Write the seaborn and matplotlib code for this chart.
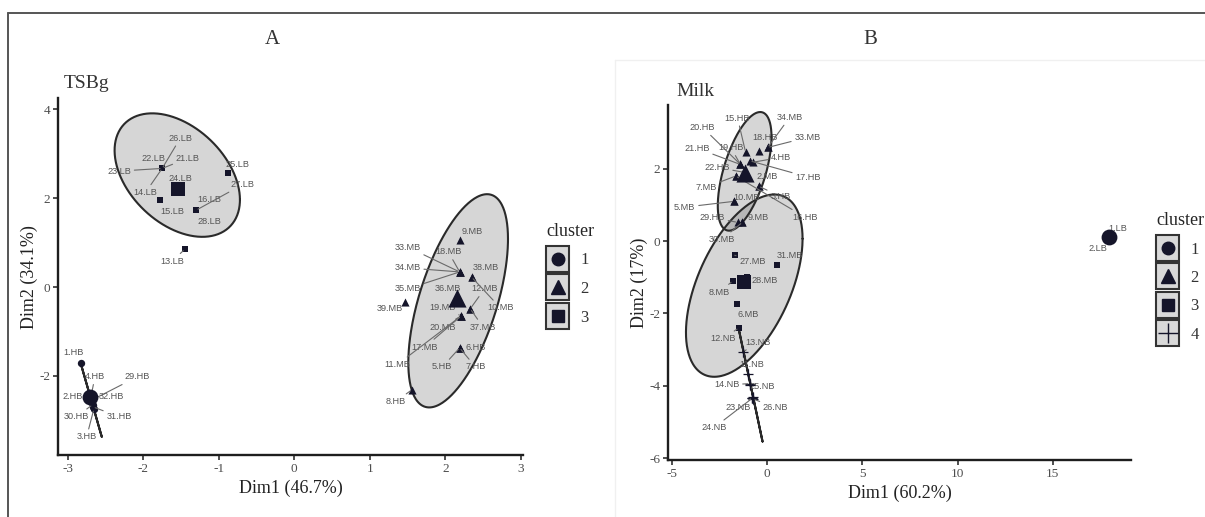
import numpy as np
import pandas as pd
import matplotlib
matplotlib.use("Agg")
import matplotlib.pyplot as plt
import seaborn as sns
from matplotlib.lines import Line2D
from matplotlib.patches import Rectangle
from matplotlib.legend_handler import HandlerBase

# ---------------- DATA : panel A (TSBg) ----------------
A_names = ["21.LB", "22.LB", "23.LB", "26.LB", "14.LB", "25.LB", "24.LB", "15.LB",
           "16.LB", "27.LB", "28.LB", "13.LB",
           "1.HB", "2.HB", "4.HB", "29.HB", "32.HB", "30.HB", "31.HB", "3.HB",
           "9.MB", "18.MB", "33.MB", "34.MB", "35.MB", "38.MB", "36.MB", "12.MB",
           "10.MB", "37.MB", "39.MB", "19.MB", "20.MB", "17.MB", "11.MB", "6.HB",
           "5.HB", "7.HB", "8.HB"]
A_dim1 = [-1.75, -1.75, -1.75, -1.75, -1.75, -0.88, -1.55, -1.78,
          -1.30, -1.30, -1.30, -1.45,
          -2.83, -2.705, -2.697, -2.688, -2.68, -2.672, -2.663, -2.655,
          2.20, 2.19, 2.19, 2.19, 2.19, 2.35, 2.15, 2.33,
          2.35, 2.33, 1.47, 2.21, 2.21, 2.21, 2.21, 2.19,
          2.19, 2.19, 1.56]
A_dim2 = [2.67, 2.67, 2.67, 2.67, 2.67, 2.56, 2.22, 1.95,
          1.73, 1.73, 1.73, 0.85,
          -1.71, -2.45, -2.50, -2.55, -2.60, -2.65, -2.70, -2.75,
          1.06, 0.34, 0.34, 0.34, 0.34, 0.22, -0.25, -0.49,
          0.22, -0.49, -0.34, -0.65, -0.65, -0.65, -0.65, -1.37,
          -1.37, -1.37, -2.31]
A_cluster = [3] * 12 + [1] * 8 + [2] * 19
# label anchor positions (repelled text), data units
A_lab1 = [-1.41, -1.87, -2.32, -1.51, -1.97, -0.75, -1.51, -1.61,
          -1.13, -0.68, -1.13, -1.62,
          -2.93, -2.93, -2.64, -2.08, -2.42, -2.89, -2.32, -2.75,
          2.36, 2.04, 1.50, 1.50, 1.50, 2.53, 2.03, 2.52,
          2.73, 2.50, 1.27, 1.96, 1.96, 1.73, 1.36, 2.40,
          1.96, 2.40, 1.34]
A_lab2 = [2.90, 2.90, 2.61, 3.35, 2.13, 2.76, 2.45, 1.71,
          1.96, 2.31, 1.48, 0.58,
          -1.48, -2.47, -2.02, -2.02, -2.47, -2.92, -2.92, -3.37,
          1.24, 0.79, 0.90, 0.43, -0.04, 0.43, -0.04, -0.04,
          -0.47, -0.90, -0.49, -0.45, -0.90, -1.35, -1.75, -1.35,
          -1.80, -1.80, -2.58]
A_center_cluster = [1, 2, 3]
A_center_dim1 = [-2.71, 2.15, -1.54]
A_center_dim2 = [-2.47, -0.25, 2.20]
# ellipses: centre, half-extent in x / y, correlation
A_ell_cluster = [1, 2, 3]
A_ell_cx = [-2.69, 2.17, -1.55]
A_ell_cy = [-2.54, -0.31, 2.52]
A_ell_sx = [0.14, 0.66, 0.83]
A_ell_sy = [0.83, 2.40, 1.39]
A_ell_rho = [-1.0, 0.58, -0.40]

# ---------------- DATA : panel B (Milk) ----------------
B_names = ["1.LB", "2.LB",
           "15.HB", "18.HB", "34.MB", "33.MB", "4.HB", "17.HB", "19.HB", "21.HB",
           "20.HB", "22.HB", "7.MB", "16.HB", "2.MB", "3.HB", "10.MB", "5.MB",
           "29.HB", "30.MB", "9.MB",
           "27.MB", "31.MB", "8.MB", "28.MB", "6.MB", "12.NB",
           "13.NB", "11.NB", "14.NB", "25.NB", "26.NB", "23.NB", "24.NB"]
B_dim1 = [17.93, 17.93,
          -1.13, -0.45, 0.03, 0.03, -0.76, -0.90, -1.40, -1.40,
          -1.40, -1.18, -1.65, -1.65, -0.45, -0.45, -1.75, -1.75,
          -1.55, -1.30, -1.30,
          -1.70, 0.50, -1.81, -1.07, -1.60, -1.49,
          -1.25, -1.00, -0.90, -0.76, -0.74, -0.78, -0.77]
B_dim2 = [0.11, 0.11,
          2.46, 2.48, 2.59, 2.59, 2.18, 2.22, 2.12, 2.12,
          2.12, 1.90, 1.80, 1.80, 1.52, 1.52, 1.10, 1.10,
          0.52, 0.52, 0.52,
          -0.39, -0.66, -1.10, -0.99, -1.74, -2.40,
          -3.06, -3.67, -3.94, -4.30, -4.36, -4.33, -4.34]
B_cluster = [1] * 2 + [2] * 19 + [3] * 6 + [4] * 7
B_lab1 = [18.40, 17.36,
          -1.55, -0.13, 1.18, 2.12, 0.75, 2.15, -1.90, -3.69,
          -3.38, -2.64, -3.20, 2.00, 0.00, 0.70, -1.10, -4.32,
          -2.88, -2.40, -0.45,
          -0.76, 1.18, -2.49, -0.13, -0.97, -2.33,
          -0.50, -0.81, -2.12, -0.24, 0.45, -1.54, -2.80]
B_lab2 = [0.36, -0.19,
          3.40, 2.87, 3.42, 2.87, 2.32, 1.77, 2.58, 2.57,
          3.14, 2.04, 1.49, 0.66, 1.78, 1.24, 1.20, 0.94,
          0.65, 0.04, 0.65,
          -0.55, -0.39, -1.41, -1.10, -2.04, -2.70,
          -2.79, -3.42, -3.97, -4.03, -4.61, -4.61, -5.16]
B_center_cluster = [1, 2, 3, 4]
B_center_dim1 = [17.93, -1.18, -1.23, -0.88]
B_center_dim2 = [0.11, 1.88, -1.13, -3.98]
B_ell_cluster = [2, 3, 4]
B_ell_cx = [-1.18, -1.20, -0.865]
B_ell_cy = [1.93, -1.23, -3.985]
B_ell_sx = [1.41, 3.06, 0.625]
B_ell_sy = [1.64, 2.52, 1.555]
B_ell_rho = [0.58, 0.515, -1.0]

# ---------------- STYLE ----------------
sns.set_theme(style="ticks")
plt.rcParams["font.family"] = ["Liberation Serif", "DejaVu Serif"]
plt.rcParams["axes.unicode_minus"] = False
INK = "#15152a"
LABC = "#555555"
SEGC = "#6a6a6a"
MARKERS = {1: "o", 2: "^", 3: "s", 4: "P"}
PT_SIZE = {1: 28, 2: 34, 3: 24}
CT_SIZE = {1: 130, 2: 170, 3: 110}

fig = plt.figure(figsize=(12.05, 5.17), dpi=100)
axA = fig.add_axes([0.0481, 0.120, 0.386, 0.690])
axB = fig.add_axes([0.5544, 0.1103, 0.3842, 0.687])


def draw_ellipses(ax, cx, cy, sx, sy, rho):
    t = np.linspace(0, 2 * np.pi, 300)
    for x0, y0, a, b, r in zip(cx, cy, sx, sy, rho):
        ex = x0 + a * np.cos(t)
        ey = y0 + b * (r * np.cos(t) + np.sqrt(max(0.0, 1 - r * r)) * np.sin(t))
        if abs(r) < 0.999:
            ax.fill(ex, ey, facecolor="#5e5e5e", alpha=0.25, edgecolor="none", zorder=1)
        ax.plot(ex, ey, color="#2a2a2a", lw=1.5, zorder=2)


def draw_points(ax, df, cdf):
    filled = df[df.cluster != 4]
    for cl in sorted(filled.cluster.unique()):
        sub = filled[filled.cluster == cl]
        sns.scatterplot(data=sub, x="Dim1", y="Dim2", marker=MARKERS[cl], s=PT_SIZE[cl],
                        color=INK, edgecolor=INK, linewidth=0, legend=False, ax=ax, zorder=4)
    cross = df[df.cluster == 4]
    if len(cross):
        ax.scatter(cross.Dim1, cross.Dim2, marker="+", s=45, color=INK, linewidths=0.9, zorder=4)
    for _, r in cdf.iterrows():
        cl = int(r.cluster)
        if cl == 4:
            ax.scatter([r.Dim1], [r.Dim2], marker="+", s=55, color=INK, linewidths=0.9, zorder=6)
        else:
            ax.scatter([r.Dim1], [r.Dim2], marker=MARKERS[cl], s=CT_SIZE[cl], color=INK,
                       linewidths=0, zorder=6)


def draw_labels(ax, df):
    ax.figure.canvas.draw()
    tr = ax.transData
    for _, r in df.iterrows():
        p = tr.transform((r.Dim1, r.Dim2))
        q = tr.transform((r.lab1, r.lab2))
        dist = np.hypot(*(p - q))
        kw = dict(ha="center", va="center", fontsize=6.6, color=LABC,
                  family=["Liberation Sans", "DejaVu Sans"], zorder=5)
        if dist > 17:
            kw["arrowprops"] = dict(arrowstyle="-", color=SEGC, lw=0.8, shrinkA=0, shrinkB=1.5)
        ax.annotate(r["name"], xy=(r.Dim1, r.Dim2), xytext=(r.lab1, r.lab2), **kw)


def style_axes(ax, xlim, ylim, xt, yt, xlabel, ylabel):
    ax.set_xlim(*xlim)
    ax.set_ylim(*ylim)
    ax.set_xticks(xt)
    ax.set_yticks(yt)
    sns.despine(ax=ax)
    for s in ("left", "bottom"):
        ax.spines[s].set_linewidth(1.7)
        ax.spines[s].set_color("#1e1e1e")
    ax.tick_params(length=3.5, width=1.1, color="#1e1e1e", labelsize=9.5,
                   labelcolor="#4d4d4d", pad=2)
    ax.set_xlabel(xlabel, fontsize=13, color="#222222", labelpad=4)
    ax.set_ylabel(ylabel, fontsize=13, color="#222222", labelpad=1)
    ax.set_facecolor("white")


KEY_W, KEY_H = 16.6, 18.7   # key box size in points


class KeyHandler(HandlerBase):
    def create_artists(self, legend, orig_handle, xdescent, ydescent, width, height,
                       fontsize, trans):
        cx = -xdescent + width / 2
        cy = -ydescent + height / 2
        rect = Rectangle((cx - KEY_W / 2, cy - KEY_H / 2), KEY_W, KEY_H, facecolor="#d9d9d9",
                         edgecolor="#333333", lw=1.5, transform=trans)
        mk = Line2D([cx], [cy], marker=orig_handle.get_marker(),
                    ms=orig_handle.get_markersize(), color=INK, ls="none",
                    mew=1.0, transform=trans)
        return [rect, mk]


def add_legend(ax, clusters, anchor):
    handles = []
    for cl in clusters:
        mk = {1: "o", 2: "^", 3: "s", 4: "+"}[cl]
        ms = {1: 9, 2: 10, 3: 8, 4: 14}[cl]
        handles.append(Line2D([], [], marker=mk, ms=ms, ls="none"))
    leg = ax.legend(handles, [str(c) for c in clusters], title="cluster",
                    handler_map={Line2D: KeyHandler()}, loc="upper left",
                    bbox_to_anchor=anchor, bbox_transform=fig.transFigure,
                    frameon=False, handlelength=1.4,
                    handletextpad=0.65, labelspacing=0.75, fontsize=12,
                    title_fontsize=13, alignment="left", borderpad=0, borderaxespad=0)
    for t in leg.get_texts():
        t.set_color("#333333")


# ---------- panel A ----------
dfA = pd.DataFrame({"name": A_names, "Dim1": A_dim1, "Dim2": A_dim2,
                    "cluster": A_cluster, "lab1": A_lab1, "lab2": A_lab2})
cA = pd.DataFrame({"cluster": A_center_cluster, "Dim1": A_center_dim1, "Dim2": A_center_dim2})
style_axes(axA, (-3.13, 3.03), (-3.78, 4.25), [-3, -2, -1, 0, 1, 2, 3], [-2, 0, 2, 4],
           "Dim1 (46.7%)", "Dim2 (34.1%)")
draw_ellipses(axA, A_ell_cx, A_ell_cy, A_ell_sx, A_ell_sy, A_ell_rho)
draw_points(axA, dfA, cA)
draw_labels(axA, dfA)
add_legend(axA, [1, 2, 3], (546 / 1205, 1 - 223 / 517))

# ---------- panel B ----------
dfB = pd.DataFrame({"name": B_names, "Dim1": B_dim1, "Dim2": B_dim2,
                    "cluster": B_cluster, "lab1": B_lab1, "lab2": B_lab2})
cB = pd.DataFrame({"cluster": B_center_cluster, "Dim1": B_center_dim1, "Dim2": B_center_dim2})
style_axes(axB, (-5.2, 19.1), (-6.05, 3.77), [-5, 0, 5, 10, 15], [-6, -4, -2, 0, 2],
           "Dim1 (60.2%)", "Dim2 (17%)")
draw_ellipses(axB, B_ell_cx, B_ell_cy, B_ell_sx, B_ell_sy, B_ell_rho)
draw_points(axB, dfB, cB)
draw_labels(axB, dfB)
add_legend(axB, [1, 2, 3, 4], (1156 / 1205, 1 - 212 / 517))

# ---------- figure decorations ----------
fig.add_artist(Line2D([8 / 1205, 1], [1 - 13 / 517, 1 - 13 / 517], color="#555555", lw=1.4))
fig.add_artist(Line2D([8 / 1205, 8 / 1205], [0, 1 - 13 / 517], color="#555555", lw=1.4))
fig.add_artist(Line2D([615 / 1205, 615 / 1205], [0, 1 - 60 / 517], color="#f0f0f0", lw=1.0))
fig.add_artist(Line2D([615 / 1205, 1], [1 - 60 / 517, 1 - 60 / 517], color="#f0f0f0", lw=1.0))
fig.text(272 / 1205, 1 - 40 / 517, "A", fontsize=15, color="#333333", ha="center", va="center")
fig.text(870 / 1205, 1 - 40 / 517, "B", fontsize=15, color="#333333", ha="center", va="center")
fig.text(64 / 1205, 1 - 84 / 517, "TSBg", fontsize=14, color="#333333", ha="left", va="center")
fig.text(676 / 1205, 1 - 92 / 517, "Milk", fontsize=14, color="#333333", ha="left", va="center")

fig.savefig("out.png", dpi=100, facecolor="white")
